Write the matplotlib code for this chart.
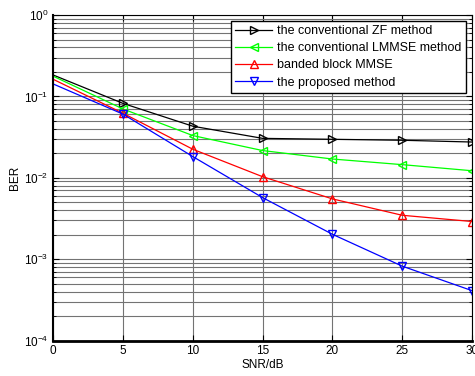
import matplotlib
matplotlib.use("Agg")
import matplotlib.pyplot as plt
import numpy as np

plt.rcParams['font.family'] = ['Liberation Sans', 'DejaVu Sans']
plt.rcParams['mathtext.fontset'] = 'custom'
plt.rcParams['mathtext.rm'] = 'Liberation Sans'
plt.rcParams['mathtext.it'] = 'Liberation Sans'

snr = [0, 5, 10, 15, 20, 25, 30]
ber_zf = [0.183, 0.082, 0.043, 0.0305, 0.0297, 0.0289, 0.0275]
ber_lmmse = [0.177, 0.070, 0.033, 0.0216, 0.017, 0.0145, 0.0122]
ber_banded = [0.162, 0.062, 0.0224, 0.0103, 0.0055, 0.00346, 0.0029]
ber_proposed = [0.142, 0.0605, 0.0182, 0.0057, 0.00202, 0.00082, 0.00041]

labels = ['the conventional ZF method', 'the conventional LMMSE method',
          'banded block MMSE', 'the proposed method']

fig = plt.figure(figsize=(4.75, 3.76), dpi=100)
ax = fig.add_axes([0.1122, 0.0944, 0.8815, 0.8656])

series = [(ber_zf, 'black', '>'), (ber_lmmse, '#00ff00', '<'),
          (ber_banded, 'red', '^'), (ber_proposed, 'blue', 'v')]
for (vals, col, mk), lab in zip(series, labels):
    # no marker at SNR=0 in the original
    ax.semilogy(snr, vals, color=col, marker=mk, markersize=6, markerfacecolor='none',
                markeredgecolor=col, lw=0.9, label=lab, markevery=slice(1, None))

ax.set_xlim(0, 30)
ax.set_ylim(1e-4, 1)
ax.set_xticks([0, 5, 10, 15, 20, 25, 30])
ax.grid(True, which='major', color='0.45', lw=0.8)
ax.grid(True, which='minor', axis='y', color='0.45', lw=0.8)
ax.tick_params(which='both', direction='in', top=True, right=True, labelsize=8.5)
ax.tick_params(which='major', length=4)
ax.tick_params(which='minor', length=2.5)
ax.spines['bottom'].set_linewidth(2)
ax.spines['left'].set_linewidth(1.5)
ax.set_xlabel('SNR/dB', fontsize=8.5, labelpad=1)
ax.set_ylabel('BER', fontsize=8.5, labelpad=2)

leg = ax.legend(loc='upper right', fontsize=9, fancybox=False, framealpha=1,
                edgecolor='black', borderpad=0.35, labelspacing=0.42,
                handlelength=3.0, handletextpad=0.4,
                bbox_to_anchor=(0.986, 0.983), borderaxespad=0)
leg.get_frame().set_linewidth(1)

fig.savefig('out.png', dpi=100)
